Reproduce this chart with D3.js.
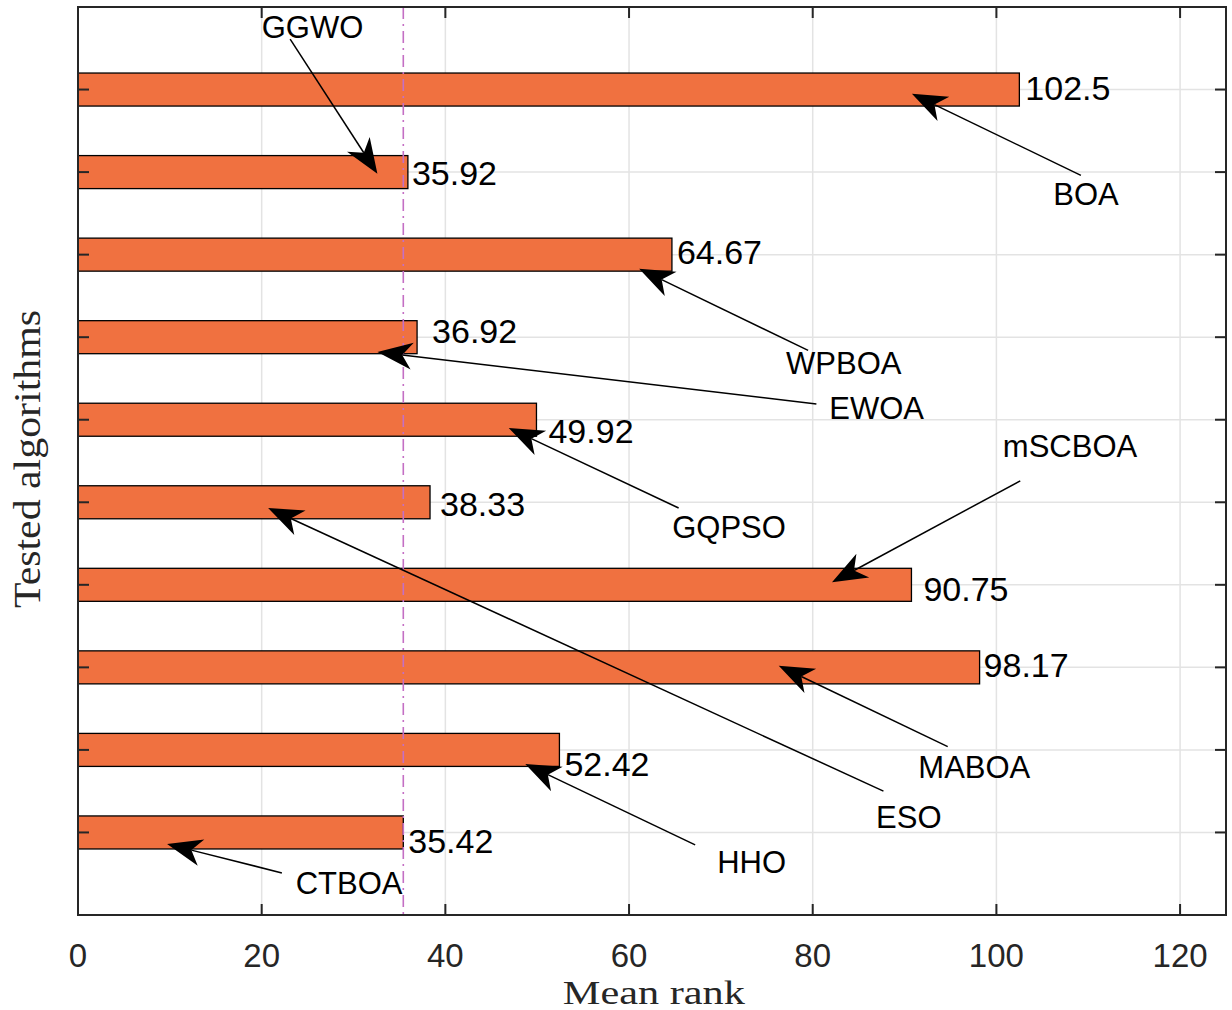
<!DOCTYPE html>
<html>
<head>
<meta charset="utf-8">
<script src="https://cdnjs.cloudflare.com/ajax/libs/d3/7.8.5/d3.min.js"></script>
<style>
  html, body { margin: 0; padding: 0; background: #fff; }
  svg { display: block; }
</style>
</head>
<body>
<svg id="chart" width="1232" height="1010"></svg>
<script>
// algorithms from top bar to bottom bar
var algorithms = ['BOA', 'GGWO', 'WPBOA', 'EWOA', 'GQPSO', 'ESO', 'mSCBOA', 'MABOA', 'HHO', 'CTBOA'];
var meanRank = [102.5, 35.92, 64.67, 36.92, 49.92, 38.33, 90.75, 98.17, 52.42, 35.42];
var xTicks = [0, 20, 40, 60, 80, 100, 120];

// arrow annotations (data units): label position, arrow tail, arrow head
var noteText  = ['BOA', 'GGWO', 'WPBOA', 'EWOA', 'GQPSO', 'ESO', 'mSCBOA', 'MABOA', 'HHO', 'CTBOA'];
var noteTextX = [106.2, 20.0, 77.1, 81.8, 64.7, 86.9, 100.7, 91.5, 69.6, 23.7];
var noteTextY = [8.60, 10.62, 6.55, 6.01, 4.57, 1.05, 5.55, 1.66, 0.51, 0.25];
var tailX = [109.2, 23.1, 79.5, 80.4, 65.4, 87.7, 102.6, 94.7, 67.2, 22.2];
var tailY = [8.96, 10.61, 6.84, 6.19, 4.93, 1.50, 5.26, 2.04, 0.85, 0.51];
var headX = [90.8, 32.6, 61.1, 32.6, 46.9, 20.7, 82.1, 76.3, 48.7, 9.7];
var headY = [9.95, 8.98, 7.83, 6.82, 5.90, 4.93, 4.03, 3.02, 1.83, 0.86];

// value label nudges (px)
var labelDx = [6, 4, 5, 15, 12, 10, 12, 4, 5, 5];
var labelDy = [10, 13, 9, 6, 23, 14, 16, 10, 26, 21];

var margin = {left: 78, top: 7, right: 6, bottom: 95};
var W = 1232, H = 1010;
var pw = W - margin.left - margin.right;
var ph = H - margin.top - margin.bottom;
var axisCol = '#262626';

var svg = d3.select('#chart');
var g = svg.append('g').attr('transform', 'translate(' + margin.left + ',' + margin.top + ')');

var x = d3.scaleLinear().domain([0, 125]).range([0, pw]);
var y = d3.scaleLinear().domain([0, 11]).range([ph, 0]);
var n = algorithms.length;
var pos = algorithms.map(function(d, i) { return n - i; });

// grid
g.selectAll('.gx').data(xTicks).enter().append('line')
  .attr('x1', d => x(d)).attr('x2', d => x(d))
  .attr('y1', 0).attr('y2', ph)
  .attr('stroke', '#e3e3e3').attr('stroke-width', 1.5);
g.selectAll('.gy').data(pos).enter().append('line')
  .attr('x1', 0).attr('x2', pw)
  .attr('y1', d => y(d)).attr('y2', d => y(d))
  .attr('stroke', '#e3e3e3').attr('stroke-width', 1.5);

// bars
var bh = y(0) - y(0.4);
g.selectAll('.bar').data(meanRank).enter().append('rect')
  .attr('x', x(0))
  .attr('y', (d, i) => y(pos[i]) - bh / 2)
  .attr('width', d => x(d) - x(0))
  .attr('height', bh)
  .attr('fill', '#f07140')
  .attr('stroke', '#000').attr('stroke-width', 1.3);

// best (minimum) mean rank reference line
var best = d3.min(meanRank);
g.append('line')
  .attr('x1', x(best)).attr('x2', x(best))
  .attr('y1', 0).attr('y2', ph)
  .attr('stroke', '#c46fc4').attr('stroke-width', 1.6)
  .attr('stroke-dasharray', '12,5,2,5');

// box
g.append('rect').attr('x', 0).attr('y', 0).attr('width', pw).attr('height', ph)
  .attr('fill', 'none').attr('stroke', axisCol).attr('stroke-width', 2);

// ticks (inward, all four sides)
var tl = 11;
xTicks.forEach(function(t) {
  g.append('line').attr('x1', x(t)).attr('x2', x(t)).attr('y1', ph).attr('y2', ph - tl)
    .attr('stroke', axisCol).attr('stroke-width', 2);
  g.append('line').attr('x1', x(t)).attr('x2', x(t)).attr('y1', 0).attr('y2', tl)
    .attr('stroke', axisCol).attr('stroke-width', 2);
});
pos.forEach(function(p) {
  g.append('line').attr('x1', 0).attr('x2', tl).attr('y1', y(p)).attr('y2', y(p))
    .attr('stroke', axisCol).attr('stroke-width', 2);
  g.append('line').attr('x1', pw).attr('x2', pw - tl).attr('y1', y(p)).attr('y2', y(p))
    .attr('stroke', axisCol).attr('stroke-width', 2);
});

// x tick labels
g.selectAll('.xt').data(xTicks).enter().append('text')
  .attr('x', d => x(d)).attr('y', ph + 52)
  .attr('text-anchor', 'middle')
  .attr('font-family', 'Liberation Sans, Arial, sans-serif')
  .attr('font-size', 33).attr('fill', axisCol)
  .text(d => d);

// value labels
g.selectAll('.val').data(meanRank).enter().append('text')
  .attr('x', (d, i) => x(d) + labelDx[i])
  .attr('y', (d, i) => y(pos[i]) + labelDy[i])
  .attr('font-family', 'Liberation Sans, Arial, sans-serif')
  .attr('font-size', 34).attr('fill', '#000')
  .text(d => d);

// arrows
function arrow(x0, y0, x1, y1) {
  var L = 35, Wd = 27, N = 25;
  var a = Math.atan2(y1 - y0, x1 - x0);
  var c = Math.cos(a), s = Math.sin(a);
  function pt(u, v) { return [x1 + u * c - v * s, y1 + u * s + v * c]; }
  var nb = pt(-N, 0);
  g.append('line').attr('x1', x0).attr('y1', y0).attr('x2', nb[0]).attr('y2', nb[1])
    .attr('stroke', '#000').attr('stroke-width', 1.5);
  var pts = [pt(0, 0), pt(-L, Wd / 2), nb, pt(-L, -Wd / 2)];
  g.append('path').attr('d', d3.line()(pts) + 'Z').attr('fill', '#000');
}
noteText.forEach(function(t, i) {
  arrow(x(tailX[i]), y(tailY[i]), x(headX[i]), y(headY[i]));
  g.append('text')
    .attr('x', x(noteTextX[i])).attr('y', y(noteTextY[i]))
    .attr('font-family', 'Liberation Sans, Arial, sans-serif')
    .attr('font-size', 31).attr('fill', '#000')
    .text(t);
});

// axis titles
svg.append('text')
  .attr('x', margin.left + x(62.7)).attr('y', 1004)
  .attr('text-anchor', 'middle')
  .attr('font-family', 'Liberation Serif, Times New Roman, serif')
  .attr('font-size', 34).attr('fill', axisCol)
  .attr('textLength', 182).attr('lengthAdjust', 'spacingAndGlyphs')
  .text('Mean rank');
svg.append('text')
  .attr('transform', 'translate(40,459) rotate(-90)')
  .attr('text-anchor', 'middle')
  .attr('font-family', 'Liberation Serif, Times New Roman, serif')
  .attr('font-size', 37).attr('fill', axisCol)
  .attr('textLength', 298).attr('lengthAdjust', 'spacingAndGlyphs')
  .text('Tested algorithms');
</script>
</body>
</html>
